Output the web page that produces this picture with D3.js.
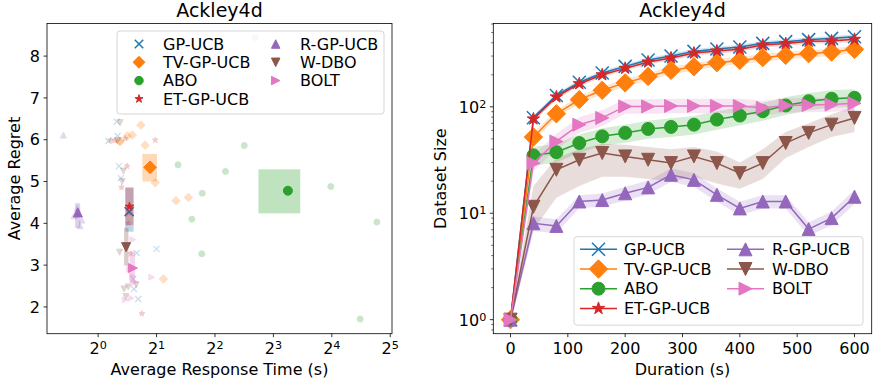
<!DOCTYPE html>
<html>
<head>
<meta charset="utf-8">
<script src="https://cdn.jsdelivr.net/npm/d3@7"></script>
<style>
  html, body { margin: 0; padding: 0; background: #fff; }
  svg { display: block; font-family: "DejaVu Sans", sans-serif; }
</style>
</head>
<body>
<svg id="chart" width="875" height="387"></svg>
<script>
// ---- methods ----
const methods = ["GP-UCB", "TV-GP-UCB", "ABO", "ET-GP-UCB", "R-GP-UCB", "W-DBO", "BOLT"];
const colors  = ["#1f77b4", "#ff7f0e", "#2ca02c", "#d62728", "#9467bd", "#8c564b", "#e377c2"];
const markers = ["x", "D", "o", "*", "^", "v", ">"];

// ---- left panel: mean response time / regret with spread ----
const meanTime   = [1.445, 1.853, 9.5, 1.45, 0.786, 1.394, 1.51];
const meanRegret = [4.28, 5.34, 4.78, 4.40, 4.26, 3.43, 2.93];
const timeLo     = [1.378, 1.69, 6.7, 1.385, 0.761, 1.361, 1.45];
const timeHi     = [1.524, 2.01, 11.0, 1.52, 0.808, 1.433, 1.55];
const regretLo   = [3.80, 5.00, 4.24, 3.96, 3.89, 2.99, 2.57];
const regretHi   = [4.85, 5.66, 5.29, 4.86, 4.48, 3.89, 3.33];

// individual runs: [response time, regret]
const runsGP   = [[1.248, 6.43], [1.13, 5.97], [1.26, 6.09], [1.28, 5.37], [1.31, 5.08], [1.58, 3.29], [2.0, 3.39], [1.52, 2.67], [1.53, 2.43], [1.61, 2.19]];
const runsTV   = [[1.66, 6.35], [1.30, 5.95], [1.416, 6.09], [1.50, 6.11], [1.747, 5.87], [1.97, 4.97], [2.52, 4.54], [2.92, 4.62], [2.17, 2.67], [1.29, 5.97]];
const runsABO  = [[6.45, 8.44], [5.66, 5.86], [2.58, 5.40], [4.53, 5.24], [3.44, 4.72], [3.04, 4.10], [3.42, 3.27], [15.8, 4.88], [27.3, 4.03], [22.4, 1.71]];
const runsET   = [[1.16, 5.99], [1.97, 5.99], [1.41, 5.37], [1.32, 4.86], [1.43, 4.0], [1.47, 3.27], [1.68, 1.84], [1.22, 5.98], [1.38, 6.03], [1.44, 4.25]];
const runsR    = [[0.662, 6.11], [0.752, 4.18], [0.824, 4.08], [0.808, 3.94], [0.78, 4.35]];
const runsW    = [[1.298, 6.41], [1.35, 5.25], [1.33, 5.0], [1.29, 3.31], [1.36, 2.43], [1.43, 2.48], [1.57, 2.53], [1.39, 2.25], [1.26, 5.98]];
const runsBOLT = [[1.51, 3.61], [1.89, 2.71], [1.51, 2.73], [1.38, 2.17], [1.48, 2.21], [1.55, 2.59], [1.45, 2.9]];
const runs = [runsGP, runsTV, runsABO, runsET, runsR, runsW, runsBOLT];

const regretTicks = [2, 3, 4, 5, 6, 7, 8];
const timeTickExps = [0, 1, 2, 3, 4, 5];

// ---- right panel: dataset size over time ----
const duration = [0, 40, 80, 120, 160, 200, 240, 280, 320, 360, 400, 440, 480, 520, 560, 600];
const sizeGP   = [1, 79, 128, 170, 208, 240, 275, 300, 332, 350, 365, 395, 410, 428, 440, 455];
const sizeTV   = [1, 52, 86, 117, 143, 168, 193, 220, 238, 260, 273, 290, 305, 316, 327, 347];
const sizeABO  = [1, 35, 37.5, 45.7, 52.8, 56.9, 62, 64.8, 68, 75.9, 82.8, 90.9, 103, 113, 119, 121.6];
const sizeET   = [1, 77, 124, 165, 200, 230, 264, 288, 320, 335, 347, 381, 393, 413, 416, 431];
const sizeR    = [1, 8.05, 7.6, 12.9, 13.3, 15.4, 17.5, 23, 20.6, 14.9, 11.1, 12.9, 12.9, 7.1, 9.0, 14.3];
const sizeW    = [1, 11.5, 25.6, 31.8, 36.8, 34.2, 31.8, 29.6, 34.2, 29.6, 23.8, 29.6, 45.7, 56.9, 68, 78.7];
const sizeBOLT = [1, 29.6, 47.3, 68, 78.7, 101, 101, 102, 102, 102, 102, 98, 103, 104, 105, 108];

const loGP   = [0.95, 75, 122, 162, 198, 228, 261, 285, 315, 333, 347, 375, 390, 407, 418, 432];
const hiGP   = [1.05, 83, 134, 178, 218, 252, 289, 315, 349, 368, 383, 415, 430, 449, 462, 478];
const loTV   = [0.92, 47, 79, 107, 131, 154, 177, 202, 218, 239, 251, 266, 280, 290, 300, 319];
const hiTV   = [1.08, 57, 93, 126, 155, 182, 208, 238, 257, 281, 295, 313, 330, 341, 353, 375];
const loABO  = [0.9, 28, 30, 37, 43, 46, 50, 52, 55, 61, 67, 74, 84, 93, 98, 100];
const hiABO  = [1.1, 42, 45, 55, 63, 68, 74, 78, 82, 91, 99, 109, 123, 135, 143, 146];
const loET   = [0.95, 72, 117, 156, 190, 219, 251, 274, 304, 318, 330, 362, 373, 392, 395, 409];
const hiET   = [1.05, 82, 131, 174, 210, 241, 277, 302, 336, 352, 364, 400, 413, 434, 437, 453];
const loR    = [0.9, 6.8, 6.5, 11.2, 11.5, 13.2, 15, 19.8, 17.7, 12.8, 9.6, 11.1, 11.1, 6.1, 7.7, 12.2];
const hiR    = [1.1, 9.3, 8.8, 14.8, 15.3, 17.7, 20.2, 26.5, 23.7, 17.2, 12.8, 14.8, 14.8, 8.2, 10.4, 16.6];
const loW    = [0.95, 7, 14, 18, 22, 22, 21, 20, 22, 19, 17, 21, 33, 42, 52, 58];
const hiW    = [1.05, 18, 33, 40, 45, 44, 42, 40, 42, 38, 30, 40, 58, 70, 85, 100];
const loBOLT = [0.9, 25, 40, 57, 66, 86, 86, 87, 87, 87, 87, 83, 88, 89, 90, 92];
const hiBOLT = [1.1, 35, 56, 80, 93, 118, 118, 119, 119, 119, 119, 114, 120, 121, 122, 126];

const sizes = [sizeGP, sizeTV, sizeABO, sizeET, sizeR, sizeW, sizeBOLT];
const los   = [loGP, loTV, loABO, loET, loR, loW, loBOLT];
const his   = [hiGP, hiTV, hiABO, hiET, hiR, hiW, hiBOLT];
const durationTicks = [0, 100, 200, 300, 400, 500, 600];
const sizeTickExps = [0, 1, 2];

const title = "Ackley4d";

// ---- drawing helpers ----
const svg = d3.select("#chart");
const FONT_TICK = 16, FONT_LABEL = 16, FONT_TITLE = 19, FONT_LEG = 16;

function markerPath(type, m) {
  const h = m / 2;
  switch (type) {
    case "o": return `M${h},0A${h},${h} 0 1,1 ${-h},0A${h},${h} 0 1,1 ${h},0Z`;
    case "D": { const d = m * 0.707; return `M0,${-d}L${d},0L0,${d}L${-d},0Z`; }
    case "^": return `M0,${-h}L${h},${h}L${-h},${h}Z`;
    case "v": return `M0,${h}L${h},${-h}L${-h},${-h}Z`;
    case ">": return `M${h},0L${-h},${h}L${-h},${-h}Z`;
    case "*": {
      const R = h, r = h * 0.382;
      let p = "";
      for (let i = 0; i < 10; i++) {
        const rad = i % 2 === 0 ? R : r;
        const a = -Math.PI / 2 + i * Math.PI / 5;
        p += (i === 0 ? "M" : "L") + (rad * Math.cos(a)).toFixed(2) + "," + (rad * Math.sin(a)).toFixed(2);
      }
      return p + "Z";
    }
    case "x": return `M${-h},${-h}L${h},${h}M${-h},${h}L${h},${-h}`;
  }
}

function drawMarker(g, type, x, y, m, color, opacity, xWidth) {
  const p = g.append("path")
    .attr("d", markerPath(type, m))
    .attr("transform", `translate(${x},${y})`)
    .attr("opacity", opacity);
  if (type === "x") {
    p.attr("fill", "none").attr("stroke", color).attr("stroke-width", xWidth || 1.5);
  } else {
    p.attr("fill", color).attr("stroke", color).attr("stroke-width", 1).attr("stroke-linejoin", "miter");
  }
  return p;
}

function powLabel(g, x, y, base, exp, anchor) {
  const t = g.append("text")
    .attr("x", x).attr("y", y)
    .attr("text-anchor", anchor)
    .attr("font-size", FONT_TICK)
    .attr("fill", "#000");
  t.append("tspan").text(base);
  t.append("tspan").attr("dy", "-0.45em").attr("font-size", FONT_TICK * 0.7).text(exp);
  return t;
}

function frame(g, x0, x1, y0, y1) {
  g.append("rect")
    .attr("x", x0).attr("y", y0)
    .attr("width", x1 - x0).attr("height", y1 - y0)
    .attr("fill", "none").attr("stroke", "#000").attr("stroke-width", 0.8);
}

// =========================== LEFT PANEL ===========================
const L = { x0: 47, x1: 392, y0: 23.5, y1: 333.7 };
const xL = d3.scaleLog().base(2).domain([Math.pow(2, -0.875), Math.pow(2, 5.03)]).range([L.x0, L.x1]);
const yL = d3.scaleLinear().domain([1.36, 8.78]).range([L.y1, L.y0]);

const gL = svg.append("g");

// individual runs (faded)
runs.forEach((pts, i) => {
  pts.forEach(([t, r]) => drawMarker(gL, markers[i], xL(t), yL(r), 6, colors[i], 0.25, 1.2));
});

// spread rectangles and mean markers
methods.forEach((name, i) => {
  gL.append("rect")
    .attr("x", xL(timeLo[i])).attr("width", xL(timeHi[i]) - xL(timeLo[i]))
    .attr("y", yL(regretHi[i])).attr("height", yL(regretLo[i]) - yL(regretHi[i]))
    .attr("fill", colors[i]).attr("opacity", 0.3);
  drawMarker(gL, markers[i], xL(meanTime[i]), yL(meanRegret[i]), 9, colors[i], 1, 1.6);
});

frame(gL, L.x0, L.x1, L.y0, L.y1);

// x ticks (powers of two)
timeTickExps.forEach(e => {
  const x = xL(Math.pow(2, e));
  gL.append("line").attr("x1", x).attr("x2", x).attr("y1", L.y1).attr("y2", L.y1 + 3.5)
    .attr("stroke", "#000").attr("stroke-width", 0.8);
  powLabel(gL, x, L.y1 + 20, "2", String(e), "middle");
});
// y ticks
regretTicks.forEach(v => {
  const y = yL(v);
  gL.append("line").attr("x1", L.x0 - 3.5).attr("x2", L.x0).attr("y1", y).attr("y2", y)
    .attr("stroke", "#000").attr("stroke-width", 0.8);
  gL.append("text").attr("x", L.x0 - 7).attr("y", y).attr("dy", "0.35em")
    .attr("text-anchor", "end").attr("font-size", FONT_TICK).text(v);
});

gL.append("text").attr("x", (L.x0 + L.x1) / 2).attr("y", 375)
  .attr("text-anchor", "middle").attr("font-size", FONT_LABEL).text("Average Response Time (s)");
gL.append("text").attr("transform", `translate(20,${(L.y0 + L.y1) / 2}) rotate(-90)`)
  .attr("text-anchor", "middle").attr("font-size", FONT_LABEL).text("Average Regret");
gL.append("text").attr("x", (L.x0 + L.x1) / 2).attr("y", 17)
  .attr("text-anchor", "middle").attr("font-size", FONT_TITLE).text(title);

// legend (markers only)
{
  const lg = gL.append("g");
  lg.append("rect").attr("x", 117).attr("y", 31).attr("width", 267).attr("height", 83)
    .attr("rx", 3).attr("fill", "#fff").attr("fill-opacity", 0.8)
    .attr("stroke", "#cccccc").attr("stroke-width", 0.8);
  methods.forEach((name, i) => {
    const col = i < 4 ? 0 : 1, row = i < 4 ? i : i - 4;
    const mx = col === 0 ? 139 : 275.7;
    const tx = col === 0 ? 163 : 300;
    const y = 44 + row * 18.3;
    drawMarker(lg, markers[i], mx, y, 8.5, colors[i], 1, 1.5);
    lg.append("text").attr("x", tx).attr("y", y).attr("dy", "0.35em")
      .attr("font-size", FONT_LEG).text(name);
  });
}

// =========================== RIGHT PANEL ===========================
const R = { x0: 493.3, x1: 871.7, y0: 23.5, y1: 333.7 };
const xR = d3.scaleLinear().domain([-30, 630]).range([R.x0, R.x1]);
const yR = d3.scaleLog().domain([0.738, 607]).range([R.y1, R.y0]);

const gR = svg.append("g");
const line = d3.line().x((d, j) => xR(duration[j])).y(d => yR(d));

methods.forEach((name, i) => {
  const area = d3.area()
    .x((d, j) => xR(duration[j]))
    .y0((d, j) => yR(los[i][j]))
    .y1((d, j) => yR(his[i][j]));
  gR.append("path").datum(sizes[i]).attr("d", area)
    .attr("fill", colors[i]).attr("opacity", 0.2);
});
methods.forEach((name, i) => {
  gR.append("path").datum(sizes[i]).attr("d", line)
    .attr("fill", "none").attr("stroke", colors[i]).attr("stroke-width", 1.5);
  sizes[i].forEach((v, j) => drawMarker(gR, markers[i], xR(duration[j]), yR(v), 13, colors[i], 1, 1.5));
});

frame(gR, R.x0, R.x1, R.y0, R.y1);

durationTicks.forEach(v => {
  const x = xR(v);
  gR.append("line").attr("x1", x).attr("x2", x).attr("y1", R.y1).attr("y2", R.y1 + 3.5)
    .attr("stroke", "#000").attr("stroke-width", 0.8);
  gR.append("text").attr("x", x).attr("y", R.y1 + 20).attr("text-anchor", "middle")
    .attr("font-size", FONT_TICK).text(v);
});
// log ticks: majors and minors
sizeTickExps.forEach(e => {
  const y = yR(Math.pow(10, e));
  gR.append("line").attr("x1", R.x0 - 3.5).attr("x2", R.x0).attr("y1", y).attr("y2", y)
    .attr("stroke", "#000").attr("stroke-width", 0.8);
  powLabel(gR, R.x0 - 7, y + 6, "10", String(e), "end");
});
yR.ticks().filter(v => {
  const e = Math.log10(v);
  return Math.abs(e - Math.round(e)) > 1e-9;
}).forEach(v => {
  const y = yR(v);
  gR.append("line").attr("x1", R.x0 - 2).attr("x2", R.x0).attr("y1", y).attr("y2", y)
    .attr("stroke", "#000").attr("stroke-width", 0.6);
});

gR.append("text").attr("x", (R.x0 + R.x1) / 2).attr("y", 375)
  .attr("text-anchor", "middle").attr("font-size", FONT_LABEL).text("Duration (s)");
gR.append("text").attr("transform", `translate(446,${(R.y0 + R.y1) / 2}) rotate(-90)`)
  .attr("text-anchor", "middle").attr("font-size", FONT_LABEL).text("Dataset Size");
gR.append("text").attr("x", (R.x0 + R.x1) / 2).attr("y", 17)
  .attr("text-anchor", "middle").attr("font-size", FONT_TITLE).text(title);

// legend (line + marker handles)
{
  const lg = gR.append("g");
  lg.append("rect").attr("x", 574).attr("y", 236.7).attr("width", 289).attr("height", 88.5)
    .attr("rx", 3).attr("fill", "#fff").attr("fill-opacity", 0.8)
    .attr("stroke", "#cccccc").attr("stroke-width", 0.8);
  methods.forEach((name, i) => {
    const col = i < 4 ? 0 : 1, row = i < 4 ? i : i - 4;
    const hx0 = col === 0 ? 580 : 727;
    const tx = col === 0 ? 624 : 772;
    const y = 249.3 + row * 19.7;
    lg.append("line").attr("x1", hx0).attr("x2", hx0 + 37).attr("y1", y).attr("y2", y)
      .attr("stroke", colors[i]).attr("stroke-width", 1.5);
    drawMarker(lg, markers[i], hx0 + 18.5, y, 13, colors[i], 1, 1.5);
    lg.append("text").attr("x", tx).attr("y", y).attr("dy", "0.35em")
      .attr("font-size", FONT_LEG).text(name);
  });
}
</script>
</body>
</html>
